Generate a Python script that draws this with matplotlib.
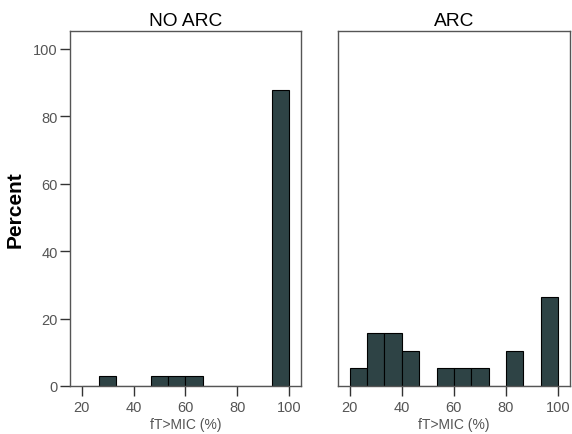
import matplotlib.pyplot as plt
import numpy as np

plt.rcParams["font.family"] = ["Liberation Sans", "DejaVu Sans"]

# histogram bins of fT>MIC (%), width 20/3 from 20 to 100
bin_edges = np.linspace(20, 100, 13)
bin_left = bin_edges[:-1]

# percent per bin
no_arc_pct = [0, 3.03, 0, 0, 3.03, 3.03, 3.03, 0, 0, 0, 0, 87.88]
arc_pct = [5.26, 15.79, 15.79, 10.53, 0, 5.26, 5.26, 5.26, 0, 10.53, 0, 26.32]

titles = ["NO ARC", "ARC"]
xticks = [20, 40, 60, 80, 100]
yticks = [0, 20, 40, 60, 80, 100]

bar_color = "#2e4345"
tick_color = "#555555"

fig = plt.figure(figsize=(5.72, 4.35), dpi=100)
ax1 = fig.add_axes([70 / 572, 48 / 435, 231 / 572, 355 / 435])
ax2 = fig.add_axes([338 / 572, 48 / 435, 232 / 572, 355 / 435])

width = bin_edges[1] - bin_edges[0]
for ax, vals, title in zip([ax1, ax2], [no_arc_pct, arc_pct], titles):
    ax.bar(bin_left, vals, width=width, align="edge", color=bar_color,
           edgecolor="black", linewidth=0.8)
    ax.set_xlim(15.5, 104.6)
    ax.set_ylim(0, 105.3)
    ax.set_xticks(xticks)
    ax.tick_params(axis="x", direction="out", length=7, width=1,
                   color="#333333", labelcolor=tick_color, labelsize=10.5, pad=3)
    ax.set_xlabel("fT>MIC (%)", fontsize=10, color=tick_color, labelpad=2)
    ax.set_title(title, fontsize=13.8, pad=4)
    for s in ax.spines.values():
        s.set_color("#555555")
        s.set_linewidth(1)

ax1.set_yticks(yticks)
ax1.tick_params(axis="y", direction="out", length=7, width=1,
                color="#333333", labelcolor=tick_color, labelsize=10.5, pad=2)
ax1.set_ylabel("Percent", fontsize=15, fontweight="bold")
ax1.yaxis.set_label_coords(-0.195, 0.5)

ax2.set_yticks([])

fig.savefig("out.png", dpi=100)
